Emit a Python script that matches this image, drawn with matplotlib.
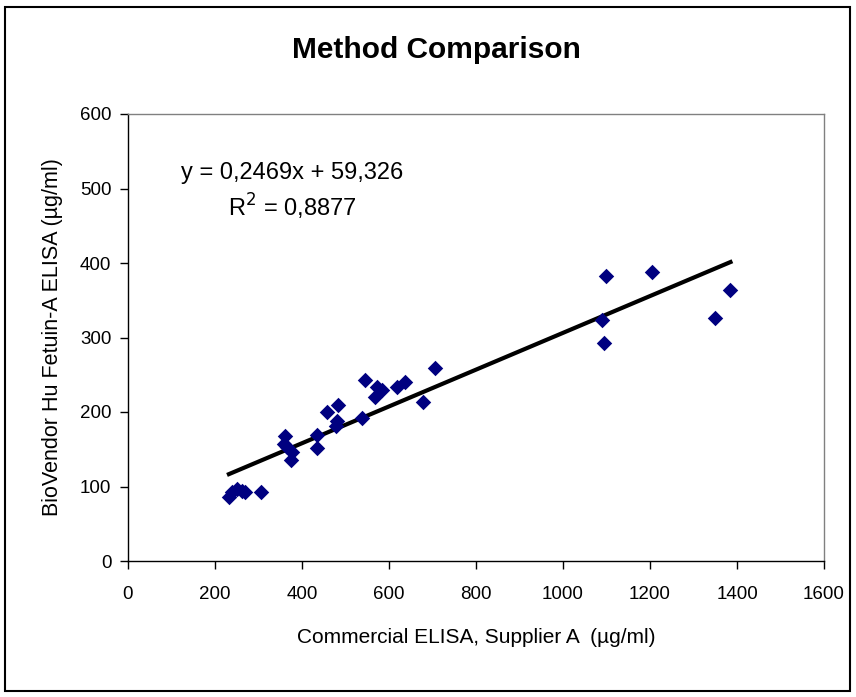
import matplotlib
matplotlib.use("Agg")
import matplotlib.pyplot as plt
import numpy as np
from matplotlib.patches import Rectangle

# Commercial ELISA, Supplier A (ug/ml)
supplier_a = [232, 240, 250, 262, 270, 305, 360, 358, 365, 378, 375, 434, 434,
              458, 482, 480, 478, 537, 545, 567, 572, 585, 618, 637, 678, 706,
              1090, 1095, 1098, 1204, 1350, 1385]
# BioVendor Hu Fetuin-A ELISA (ug/ml)
biovendor = [86, 92, 96, 94, 93, 93, 168, 157, 153, 146, 136, 169, 152,
             200, 209, 188, 181, 192, 243, 220, 233, 230, 233, 240, 214, 259,
             323, 292, 382, 388, 326, 364]

slope = 0.2469
intercept = 59.326
r2 = 0.8877

x_ticks = [0, 200, 400, 600, 800, 1000, 1200, 1400, 1600]
y_ticks = [0, 100, 200, 300, 400, 500, 600]

narrow = ['Liberation Sans Narrow', 'Liberation Sans', 'DejaVu Sans']
regular = ['Liberation Sans', 'DejaVu Sans']

fig = plt.figure(figsize=(8.56, 6.97), dpi=100)
ax = fig.add_axes([128 / 856, 1 - 561 / 697, (824 - 128) / 856, (561 - 114) / 697])

# outer chart border
fig.patches.append(Rectangle((5 / 856, 6 / 697), 845 / 856, 684 / 697, transform=fig.transFigure,
                             fill=False, edgecolor='black', linewidth=1.5))

ax.scatter(supplier_a, biovendor, marker='D', s=62, color='#000080', zorder=3, linewidths=0)

xs = np.array([min(supplier_a), max(supplier_a)])
ax.plot(xs, slope * xs + intercept, color='black', linewidth=3, zorder=2)

ax.set_xlim(0, 1600)
ax.set_ylim(0, 600)
ax.set_xticks(x_ticks)
ax.set_yticks(y_ticks)
ax.set_xticklabels([str(t) for t in x_ticks], family=narrow, fontsize=13.5)
ax.set_yticklabels([str(t) for t in y_ticks], family=narrow, fontsize=13.5)
ax.tick_params(direction='out', length=6, width=1, pad=12)
ax.tick_params(axis='y', pad=6)

for side in ['top', 'right']:
    ax.spines[side].set_color('#808080')
    ax.spines[side].set_linewidth(1)
for side in ['left', 'bottom']:
    ax.spines[side].set_color('black')
    ax.spines[side].set_linewidth(1)

ax.set_xlabel('Commercial ELISA, Supplier A  (µg/ml)', family=narrow, fontsize=15, labelpad=18)
ax.set_ylabel('BioVendor Hu Fetuin-A ELISA (µg/ml)', family=narrow, fontsize=15.5, labelpad=12)

fig.text(436 / 856, 1 - 50 / 697, 'Method Comparison', family=narrow, fontsize=21.5,
         fontweight='bold', ha='center', va='center')

ax.text(292 / 856, 1 - 173 / 697, 'y = 0,2469x + 59,326', transform=fig.transFigure,
        family=regular, fontsize=17, ha='center', va='center')
ax.text(292 / 856, 1 - 207 / 697, 'R$^2$ = 0,8877', transform=fig.transFigure,
        family=regular, fontsize=17, ha='center', va='center')

fig.savefig('out.png', dpi=100)
